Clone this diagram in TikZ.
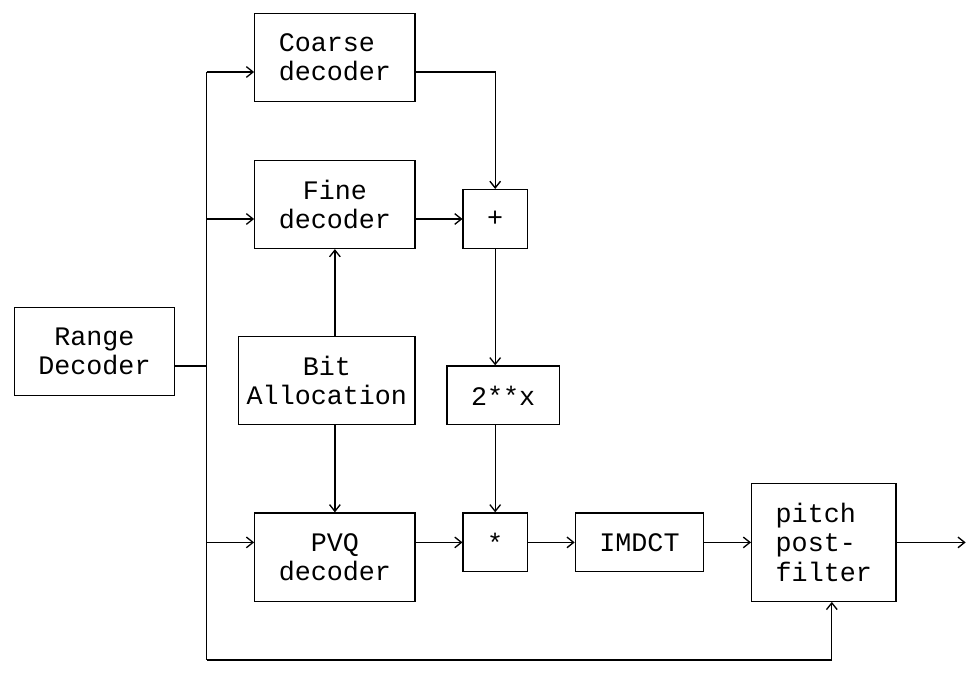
\documentclass[tikz,border=0pt]{standalone}
\usepackage{fontspec}
\usepackage{tikz}
\usetikzlibrary{arrows.meta}
\newfontfamily\monofont{Liberation Mono}
\newcommand{\cw}{12.0225pt}
\newcommand{\rh}{22.05pt}

\begin{document}
\begin{tikzpicture}[x=\cw, y=-\rh, line width=1pt,
    every node/.style={font=\monofont\fontsize{20.04pt}{22.05pt}\selectfont},
    blk/.style={draw, inner sep=0pt, align=center},
    flow/.style={-{Straight Barb[length=5pt,width=8pt]}}]
   % Canvas (always first!)
   \useasboundingbox (-0.892,-0.449) rectangle (59.62,22.48);
    % Blocks
    \node[blk, minimum width=10*\cw, minimum height=3*\rh] (range) at (5,11.5) {Range\\Decoder};
    \node[blk, align=left, minimum width=10*\cw, minimum height=3*\rh] (coarse) at (20,1.5) {Coarse\\decoder};
    \node[blk, minimum width=10*\cw, minimum height=3*\rh] (fine) at (20,6.5) {Fine\\decoder};
    \node[blk, minimum width=11*\cw, minimum height=3*\rh] (bit) at (19.5,12.5) {Bit\\Allocation};
    \node[blk, minimum width=10*\cw, minimum height=3*\rh] (pvq) at (20,18.5) {PVQ\\decoder};
    \node[blk, minimum width=4*\cw, minimum height=2*\rh] (sum) at (30,7) {+};
    \node[blk, minimum width=7*\cw, minimum height=2*\rh] (exp) at (30.5,13) {2**x};
    \node[blk, minimum width=4*\cw, minimum height=2*\rh] (mul) at (30,18) {*};
    \node[blk, minimum width=8*\cw, minimum height=2*\rh] (imdct) at (39,18) {IMDCT};
    \node[blk, align=left, minimum width=9*\cw, minimum height=4*\rh] (pitch) at (50.5,18) {pitch\\post-\\filter};

    % Bus and turning points
    \coordinate (bustop) at (12,2);
    \coordinate (busfine) at (12,7);
    \coordinate (busrng) at (12,12);
    \coordinate (buspvq) at (12,18);
    \coordinate (busend) at (12,22);
    \coordinate (corner) at (51,22);
    \coordinate (cturn) at (30,2);
    \coordinate (out) at (59.35,18);

    % Connectors
    \draw (range.east |- busrng) -- (busrng);
    \draw (bustop) -- (busend);
    \draw[flow] (bustop) -- (coarse.west |- bustop);
    \draw[flow] (busfine) -- (fine.west |- busfine);
    \draw[flow] (buspvq) -- (pvq.west |- buspvq);
    \draw[flow] (busend) -- (corner) -- (corner |- pitch.south);
    \draw[flow] (coarse.east |- cturn) -- (cturn) -- (sum.north);
    \draw[flow] (fine.east |- sum.west) -- (sum.west);
    \draw[flow] (sum.south) -- (sum.south |- exp.north);
    \draw[flow] (fine.south |- bit.north) -- (fine.south);
    \draw[flow] (pvq.north |- bit.south) -- (pvq.north);
    \draw[flow] (mul.north |- exp.south) -- (mul.north);
    \draw[flow] (pvq.east |- mul.west) -- (mul.west);
    \draw[flow] (mul.east) -- (imdct.west);
    \draw[flow] (imdct.east) -- (pitch.west);
    \draw[flow] (pitch.east) -- (out);
\end{tikzpicture}
\end{document}
